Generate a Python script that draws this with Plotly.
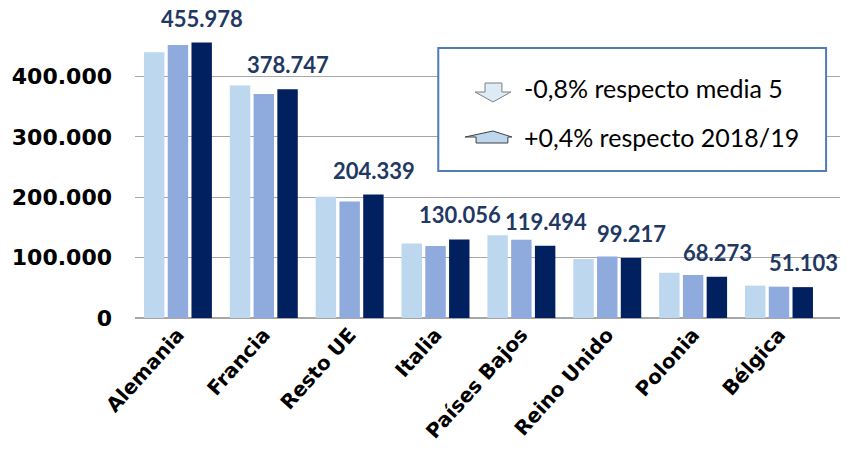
import plotly.graph_objects as go

categories = ["Alemania", "Francia", "Resto UE", "Italia", "Países Bajos",
              "Reino Unido", "Polonia", "Bélgica"]
media5 = [440000, 385000, 200700, 123200, 137000, 97800, 75000, 53600]
prev_1819 = [452000, 371000, 192900, 119400, 129400, 101700, 71300, 51900]
curr_1920 = [455978, 378747, 204339, 130056, 119494, 99217, 68273, 51103]
curr_labels = ["455.978", "378.747", "204.339", "130.056", "119.494",
               "99.217", "68.273", "51.103"]
y_tickvals = [0, 100000, 200000, 300000, 400000]
y_ticktext = ["0", "100.000", "200.000", "300.000", "400.000"]
box_lines = ["-0,8% respecto media 5", "+0,4% respecto 2018/19"]

# layout geometry (pixels)
W, H = 856, 462
L, R, T, B = 131, 840, 16, 318
BARGAP = 0.17
LABEL_YSHIFT = 9

def px(x):
    return (x - L) / (R - L)

def py(y):
    return (B - y) / (B - T)

fig = go.Figure()
colors = ["#BDD7EE", "#8FAADC", "#002060"]
names = ["Media 5", "2018/19", "2019/20"]
for vals, c, n in zip([media5, prev_1819, curr_1920], colors, names):
    fig.add_trace(go.Bar(x=categories, y=vals, name=n, marker_color=c,
                         marker_line_width=0, showlegend=False))

cat_w = (R - L) / len(categories)
xshift = cat_w * (1 - BARGAP) / 3

for cat, v, lab in zip(categories, curr_1920, curr_labels):
    fig.add_annotation(x=cat, y=v, text=lab, showarrow=False,
                       xanchor="center", yanchor="bottom",
                       xshift=xshift, yshift=LABEL_YSHIFT,
                       font=dict(family="Lato", size=22, color="#1F3864",
                                 weight="bold"))

# summary box
fig.add_shape(type="rect", xref="paper", yref="paper",
              x0=px(436), x1=px(826), y0=py(48), y1=py(171),
              line=dict(color="#4F7DB3", width=2), fillcolor="white",
              layer="above")

def path(points):
    return "M " + " L ".join(f"{px(a)},{py(b)}" for a, b in points) + " Z"

down = [(483, 83), (500, 83), (500, 92), (509, 92), (491, 102), (473, 92), (483, 92)]
up = [(491, 131), (510, 137), (506, 137), (506, 143), (474, 143), (474, 137), (463, 137)]
fig.add_shape(type="path", xref="paper", yref="paper", path=path(down),
              fillcolor="#DDEBF7", line=dict(color="#7F7F7F", width=1), layer="above")
fig.add_shape(type="path", xref="paper", yref="paper", path=path(up),
              fillcolor="#BDD7EE", line=dict(color="#404040", width=1), layer="above")

for txt, yy in zip(box_lines, [88, 137]):
    fig.add_annotation(xref="paper", yref="paper", x=px(520), y=py(yy),
                       text=txt, showarrow=False, xanchor="left", yanchor="middle",
                       font=dict(family="Lato", size=25, color="#000000"))

fig.update_layout(
    width=W, height=H,
    margin=dict(l=L, r=W - R, t=T, b=H - B),
    paper_bgcolor="white", plot_bgcolor="white",
    barmode="group", bargap=BARGAP, bargroupgap=0.14,
)
fig.update_xaxes(showgrid=False, showline=False, ticks="",
                 tickangle=-48,
                 tickfont=dict(family="DejaVu Sans", size=20, color="#000000",
                               weight="bold"))
fig.update_yaxes(range=[0, 500000], tickvals=y_tickvals, ticktext=y_ticktext,
                 showgrid=True, gridcolor="#A6A6A6", gridwidth=1,
                 zeroline=True, zerolinecolor="#A6A6A6", zerolinewidth=1.5,
                 showline=False, ticklabelstandoff=22,
                 tickfont=dict(family="DejaVu Sans", size=22, color="#000000",
                               weight="bold"))

fig.write_html("out.html", config={"displayModeBar": False},
               post_script="document.body.style.margin='0';")
